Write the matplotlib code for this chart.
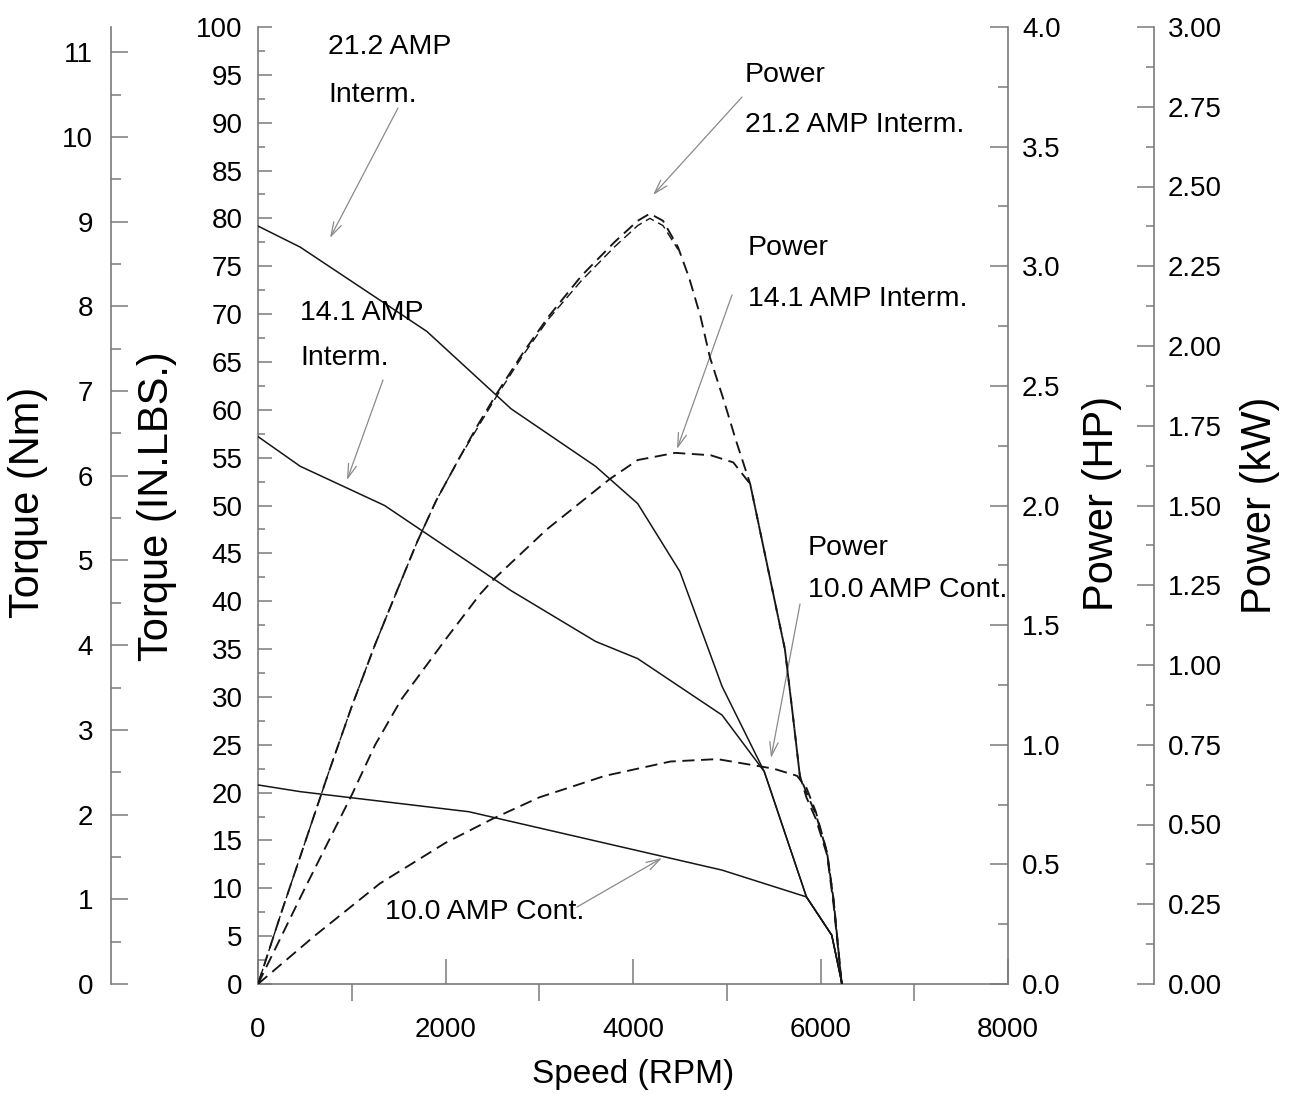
import matplotlib
matplotlib.use("Agg")
import matplotlib.pyplot as plt
from matplotlib.ticker import MultipleLocator, FixedLocator, NullFormatter, FormatStrFormatter

# ---------------- data ----------------
# Torque curves (in-lb) vs speed (RPM)
rpm_t21 = [0, 450, 1800, 2700, 3600, 4050, 4500, 4950, 5400, 5850, 6120, 6230]
torque_t21 = [79.2, 77.0, 68.2, 60.1, 54.1, 50.2, 43.1, 31.1, 22.2, 9.1, 5.1, 0.0]

rpm_t14 = [0, 450, 1350, 2700, 3600, 4050, 4950, 5400, 5850, 6120, 6230]
torque_t14 = [57.2, 54.1, 50.0, 41.1, 35.8, 34.0, 28.1, 22.2, 9.1, 5.1, 0.0]

rpm_t10 = [0, 450, 2250, 4950, 5850, 6120, 6230]
torque_t10 = [20.8, 20.1, 18.0, 11.9, 9.1, 5.1, 0.0]

# Power curves (HP) vs speed (RPM)
rpm_p21 = [0, 250, 500, 750, 1000, 1250, 1500, 1700, 1900, 2150, 2350, 2550, 2830,
           3100, 3450, 3800, 4050, 4180, 4320, 4480, 4600, 4720, 4820, 4960, 5100,
           5250, 5400, 5550, 5620, 5700, 5780, 5850, 5950, 6070, 6140, 6226]
power_p21 = [0, 0.30, 0.59, 0.88, 1.16, 1.42, 1.66, 1.85, 2.02, 2.20, 2.34, 2.47,
             2.64, 2.79, 2.96, 3.10, 3.19, 3.22, 3.19, 3.08, 2.95, 2.79, 2.62, 2.45,
             2.27, 2.09, 1.81, 1.53, 1.40, 1.14, 0.87, 0.78, 0.69, 0.54, 0.33, 0]

# second trace of the 21.2 A power curve (rising side and peak)
rpm_p21b = [0, 250, 500, 750, 1000, 1250, 1500, 1700, 1900, 2150, 2350, 2550, 2830,
            3100, 3450, 3800, 4050, 4180, 4320, 4480]
power_p21b = [0, 0.30, 0.59, 0.88, 1.16, 1.42, 1.66, 1.85, 2.02, 2.20, 2.33, 2.46,
              2.63, 2.78, 2.94, 3.08, 3.17, 3.20, 3.17, 3.07]

rpm_p14 = [0, 500, 1000, 1250, 1530, 2000, 2370, 2510, 3080, 3750, 4050, 4450,
           4830, 5070, 5210, 5250, 5400, 5550, 5620, 5700, 5780, 5850, 5950, 6070,
           6140, 6226]
power_p14 = [0, 0.40, 0.79, 1.00, 1.19, 1.44, 1.63, 1.69, 1.90, 2.11, 2.19, 2.22,
             2.21, 2.18, 2.11, 2.09, 1.81, 1.53, 1.40, 1.14, 0.87, 0.80, 0.71, 0.55,
             0.35, 0]

rpm_p10 = [0, 600, 1300, 2000, 2500, 3000, 3700, 4400, 4900, 5200, 5500, 5750,
           5850, 5950, 6070, 6140, 6226]
power_p10 = [0, 0.20, 0.42, 0.59, 0.69, 0.78, 0.87, 0.93, 0.94, 0.92, 0.90, 0.87,
             0.82, 0.72, 0.55, 0.35, 0]

# Axis tick values
x_major = [0, 2000, 4000, 6000, 8000]
x_minor = [1000, 3000, 5000, 7000]

# ---------------- style ----------------
plt.rcParams["font.family"] = ["Liberation Sans", "DejaVu Sans"]
GREY = "#7a7a7a"
INK = "#151515"
TICK_FS = 20

W, H = 1290, 1117
fig = plt.figure(figsize=(W / 100, H / 100), dpi=100)
L, R, T, B = 258, 1008, 27, 984
ax = fig.add_axes([L / W, 1 - B / H, (R - L) / W, (B - T) / H])
ax.set_xlim(0, 8000)
ax.set_ylim(0, 100)


def px(x, y):
    """Figure-pixel position (from top-left) to torque-axis data coordinates."""
    return (x - L) * 8000 / (R - L), (B - y) * 100 / (B - T)


for s in ("top", "right"):
    ax.spines[s].set_visible(False)
for s in ("left", "bottom"):
    ax.spines[s].set_color(GREY)
    ax.spines[s].set_linewidth(1.2)

# x axis: major ticks point in, minor ticks point out
ax.xaxis.set_major_locator(FixedLocator(x_major))
ax.xaxis.set_minor_locator(FixedLocator(x_minor))
ax.tick_params(axis="x", which="major", direction="in", length=18, width=1.1,
               color=GREY, labelsize=TICK_FS, pad=24)
ax.tick_params(axis="x", which="minor", direction="out", length=12, width=1.1,
               color=GREY)
ax.xaxis.set_minor_formatter(NullFormatter())

# in-lb axis
ax.yaxis.set_major_locator(MultipleLocator(5))
ax.yaxis.set_minor_locator(MultipleLocator(2.5))
ax.tick_params(axis="y", which="major", direction="in", length=10, width=1.1,
               color=GREY, labelsize=TICK_FS, pad=11)
ax.tick_params(axis="y", which="minor", direction="in", length=5, width=1.1,
               color=GREY)

# Nm axis (same scale as in-lb)
ax_nm = ax.twinx()
ax_nm.set_ylim(0, 100 * 0.112985)
ax_nm.yaxis.set_ticks_position("left")
ax_nm.spines["left"].set_position(("axes", (111 - L) / (R - L)))
for s in ("top", "right", "bottom"):
    ax_nm.spines[s].set_visible(False)
ax_nm.spines["left"].set_color(GREY)
ax_nm.spines["left"].set_linewidth(1.2)
ax_nm.yaxis.set_major_locator(MultipleLocator(1))
ax_nm.yaxis.set_minor_locator(MultipleLocator(0.5))
ax_nm.tick_params(axis="y", which="major", direction="in", length=12, width=1.1,
                  color=GREY, labelsize=TICK_FS, pad=13)
ax_nm.tick_params(axis="y", which="minor", direction="in", length=7, width=1.1,
                  color=GREY)

# HP axis
ax_hp = ax.twinx()
ax_hp.set_ylim(0, 4.0)
for s in ("top", "left", "bottom"):
    ax_hp.spines[s].set_visible(False)
ax_hp.spines["right"].set_color(GREY)
ax_hp.spines["right"].set_linewidth(1.2)
ax_hp.yaxis.set_major_locator(MultipleLocator(0.5))
ax_hp.yaxis.set_minor_locator(MultipleLocator(0.25))
ax_hp.yaxis.set_major_formatter(FormatStrFormatter("%.1f"))
ax_hp.tick_params(axis="y", which="major", direction="in", length=13, width=1.1,
                  color=GREY, labelsize=TICK_FS, pad=10)
ax_hp.tick_params(axis="y", which="minor", direction="in", length=7, width=1.1,
                  color=GREY)

# kW axis
ax_kw = ax.twinx()
ax_kw.set_ylim(0, 3.0)
ax_kw.spines["right"].set_position(("axes", (1154 - L) / (R - L)))
for s in ("top", "left", "bottom"):
    ax_kw.spines[s].set_visible(False)
ax_kw.spines["right"].set_color(GREY)
ax_kw.spines["right"].set_linewidth(1.2)
ax_kw.yaxis.set_major_locator(MultipleLocator(0.25))
ax_kw.yaxis.set_minor_locator(MultipleLocator(0.125))
ax_kw.yaxis.set_major_formatter(FormatStrFormatter("%.2f"))
ax_kw.tick_params(axis="y", which="major", direction="in", length=12, width=1.1,
                  color=GREY, labelsize=TICK_FS, pad=10)
ax_kw.tick_params(axis="y", which="minor", direction="in", length=6, width=1.1,
                  color=GREY)

# ---------------- curves ----------------
for r, t in ((rpm_t21, torque_t21), (rpm_t14, torque_t14), (rpm_t10, torque_t10)):
    ax.plot(r, t, color=INK, lw=1.1, solid_joinstyle="miter", zorder=3)

dash = (0, (6.5, 3.5))
ax_hp.plot(rpm_p21, power_p21, color=INK, lw=1.35, ls=dash, zorder=3)
ax_hp.plot(rpm_p21b, power_p21b, color=INK, lw=1.0, ls=(5, (6.5, 3.5)), zorder=3)
ax_hp.plot(rpm_p14, power_p14, color=INK, lw=1.35, ls=dash, zorder=3)
ax_hp.plot(rpm_p10, power_p10, color=INK, lw=1.35, ls=dash, zorder=3)

# ---------------- annotations ----------------
txt_kw = dict(fontsize=20.5, color="black", ha="left", va="center", zorder=5)
labels = [
    ("21.2 AMP", 328, 47), ("Interm.", 328, 95),
    ("14.1 AMP", 300, 313), ("Interm.", 300, 358),
    ("10.0 AMP Cont.", 385, 912),
    ("Power", 745, 75), ("21.2 AMP Interm.", 745, 125),
    ("Power", 748, 248), ("14.1 AMP Interm.", 748, 299),
    ("Power", 808, 548), ("10.0 AMP Cont.", 808, 590),
]
for s, x, y in labels:
    ax.text(*px(x, y), s, **txt_kw)

arrows = [
    ((398, 108), (330, 238)),
    ((383, 380), (347, 480)),
    ((577, 907), (662, 858)),
    ((742, 97), (653, 195)),
    ((732, 295), (677, 449)),
    ((800, 604), (771, 758)),
]
for (sx, sy), (ex, ey) in arrows:
    ax.annotate("", xy=px(ex, ey), xytext=px(sx, sy),
                arrowprops=dict(arrowstyle="->,head_length=1.0,head_width=0.3",
                                color="#8a8a8a", lw=0.9, shrinkA=0, shrinkB=0),
                zorder=4)

# ---------------- axis titles ----------------
title_kw = dict(rotation=90, ha="center", va="center", fontsize=30)
fig.text(28 / W, 1 - 502 / H, "Torque (Nm)", **title_kw)
fig.text(157 / W, 1 - 506 / H, "Torque (IN.LBS.)", **title_kw)
fig.text(1102 / W, 1 - 503 / H, "Power (HP)", **title_kw)
fig.text(1260 / W, 1 - 505 / H, "Power (kW)", **title_kw)
fig.text(633 / W, 1 - 1075 / H, "Speed (RPM)", ha="center", va="center",
         fontsize=24)

fig.savefig("out.png", dpi=100, facecolor="white")
